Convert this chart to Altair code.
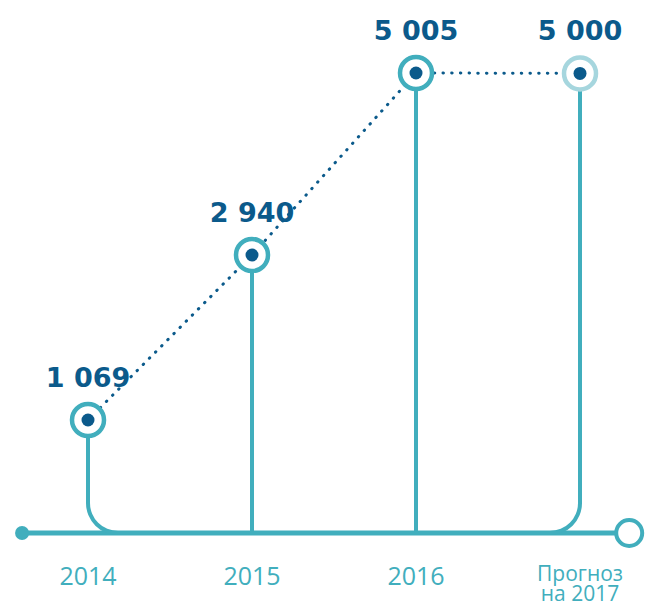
import math
import altair as alt
import pandas as pd

# ---- data ----
categories = ["2014", "2015", "2016", "Прогноз\nна 2017"]
values = [1069, 2940, 5005, 5000]
value_labels = ["1 069", "2 940", "5 005", "5 000"]
is_forecast = [False, False, False, True]

baseline_value = -213          # value level where the horizontal axis line sits
axis_start = -0.402            # axis line extent in category-index units
axis_end = 3.300

TEAL = "#41AEBD"
LIGHT = "#A6D6DE"
DARK = "#0B5A8B"
R = 30  # corner radius of the curved stems (px)

df = pd.DataFrame({
    "idx": list(range(len(categories))),
    "cat": categories,
    "value": values,
    "label": value_labels,
    "ring": [LIGHT if f else TEAL for f in is_forecast],
    "base": [baseline_value] * len(categories),
})
axis_df = pd.DataFrame({"start": [axis_start], "end": [axis_end], "y": [baseline_value]})

xs = alt.Scale(domain=[-0.4878, 3.3963], nice=False, zero=False)
ys = alt.Scale(domain=[-1007, 5742], nice=False, zero=False)
X = alt.X("idx:Q", scale=xs, axis=None)
Y = alt.Y("value:Q", scale=ys, axis=None)
YB = alt.Y("base:Q", scale=ys, axis=None)

base = alt.Chart(df)

axis_line = alt.Chart(axis_df).mark_rule(color=TEAL, strokeWidth=5).encode(
    x=alt.X("start:Q", scale=xs, axis=None), x2="end:Q",
    y=alt.Y("y:Q", scale=ys, axis=None))
start_dot = alt.Chart(axis_df).mark_circle(color=TEAL, size=196, opacity=1).encode(
    x=alt.X("start:Q", scale=xs, axis=None), y=alt.Y("y:Q", scale=ys, axis=None))
end_ring = alt.Chart(axis_df).mark_point(
    shape="circle", filled=True, fill="white", stroke=TEAL, strokeWidth=4,
    size=676, opacity=1).encode(
    x=alt.X("end:Q", scale=xs, axis=None), y=alt.Y("y:Q", scale=ys, axis=None))

stems_mid = base.transform_filter("datum.idx == 1 || datum.idx == 2").mark_rule(
    color=TEAL, strokeWidth=4).encode(x=X, y=Y, y2="base:Q")
stems_end = base.transform_filter("datum.idx == 0 || datum.idx == 3").mark_rule(
    color=TEAL, strokeWidth=4, y2Offset=-R).encode(x=X, y=Y, y2="base:Q")

arc_left = base.transform_filter("datum.idx == 0").mark_arc(
    color=TEAL, theta=math.pi, theta2=1.5 * math.pi, radius=R + 2, radius2=R - 2,
    xOffset=R, yOffset=-R).encode(x=X, y=YB)
arc_right = base.transform_filter("datum.idx == 3").mark_arc(
    color=TEAL, theta=0.5 * math.pi, theta2=math.pi, radius=R + 2, radius2=R - 2,
    xOffset=-R, yOffset=-R).encode(x=X, y=YB)

dotted = base.mark_line(color=DARK, strokeDash=[0.5, 8.2], strokeCap="round",
                        strokeWidth=3).encode(x=X, y=Y)

rings = base.mark_point(shape="circle", filled=True, fill="white", strokeWidth=4.5,
                        size=1024, opacity=1).encode(
    x=X, y=Y, stroke=alt.Stroke("ring:N", scale=None))
dots = base.mark_circle(color=DARK, size=169, opacity=1).encode(x=X, y=Y)

value_text = base.mark_text(font="DejaVu Sans", fontWeight="bold", fontSize=27,
                            color=DARK, dy=-33, baseline="alphabetic",
                            align="center").encode(x=X, y=Y, text="label:N")
cat_text = base.transform_filter("datum.idx < 3").mark_text(
    font="Open Sans", fontSize=25, color=TEAL, dy=52, baseline="alphabetic",
    align="center").encode(x=X, y=YB, text="cat:N")
forecast_text = base.transform_filter("datum.idx == 3").mark_text(
    font="Open Sans", fontSize=21, color=TEAL, dy=48, baseline="alphabetic",
    align="center", lineBreak="\n", lineHeight=20).encode(x=X, y=YB, text="cat:N")

chart = alt.layer(
    axis_line, start_dot, end_ring, stems_mid, stems_end, arc_left, arc_right,
    dotted, rings, dots, value_text, cat_text, forecast_text
).properties(
    width=637, height=595, padding=0, background="white",
    autosize=alt.AutoSizeParams(type="none"),
).configure_view(stroke=None)

chart.save("out.html", embed_options={"renderer": "svg", "actions": False})
